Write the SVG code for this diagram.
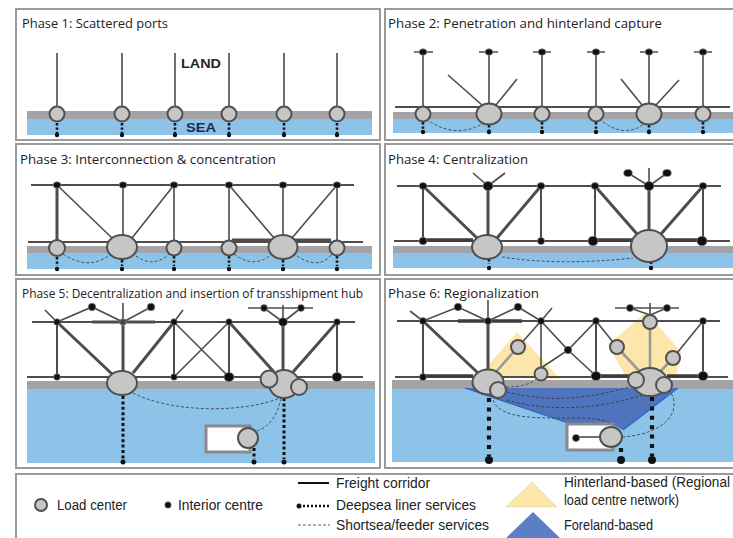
<svg xmlns="http://www.w3.org/2000/svg" width="733" height="538" viewBox="0 0 733 538">
<style>
.pb{fill:#fff;stroke:#9a9a9a;stroke-width:2}
.t{font-family:"Open Sans","Noto Sans",sans-serif;font-size:12.5px;fill:#222}
.lt{font-family:"Liberation Sans",Arial,sans-serif;font-size:14px;fill:#222}
.bg{fill:#a4a4a6}
.bb{fill:#8dc3e9}
.ln{stroke:#4d4d4d;stroke-width:1.6;fill:none}
.l2{stroke:#4d4d4d;stroke-width:2;fill:none}
.tk{stroke:#4d4d4d;stroke-width:3;fill:none}
.tk4{stroke:#3d3d3d;stroke-width:3.6;fill:none}
.gl{stroke:#9a9a9a;stroke-width:2.6;fill:none}
.lc{fill:#c6c6c6;stroke:#505050;stroke-width:2}
.ic{fill:#111;stroke:#888;stroke-width:0.7}
.dp{stroke:#111;stroke-width:2.6;stroke-dasharray:2.4 2;fill:none}
.dp2{stroke:#111;stroke-width:3;stroke-dasharray:3 2.4;fill:none}
.dp3{stroke:#111;stroke-width:4.2;stroke-dasharray:4 5.4;fill:none}
.ss{stroke:#333;stroke-width:0.8;stroke-dasharray:3 2;fill:none}
.rc{fill:#fff;stroke:#8a8a8a;stroke-width:3}
.yl{fill:#fce6a9}
.fl{fill:#4f74bd}
</style>

<!-- Panel 1 -->
<g id="panel1">
<rect class="pb" x="16" y="9" width="364" height="131"/>
<text class="t" x="22" y="28" textLength="146" lengthAdjust="spacingAndGlyphs">Phase 1: Scattered ports</text>
<rect class="bg" x="27" y="111" width="345" height="8"/>
<rect class="bb" x="27" y="119" width="345" height="16"/>
<text x="181" y="68" font-family="Liberation Sans,Arial,sans-serif" font-weight="bold" font-size="13.5" fill="#262626" textLength="40" lengthAdjust="spacingAndGlyphs">LAND</text>
<text x="186" y="132" font-family="Liberation Sans,Arial,sans-serif" font-weight="bold" font-size="13.5" fill="#1c2b4d" textLength="30" lengthAdjust="spacingAndGlyphs">SEA</text>
<g id="p1-connectors">
<path class="ln" d="M57 53V107M122 53V107M175 53V107M229 53V107M284 53V107M337 53V107"/>
<path class="dp" d="M57 123V133M122 123V133M175 123V133M229 123V133M284 123V133M337 123V133"/>
</g>
<g id="p1-nodes">
<circle id="p1-lc1" class="lc" cx="57" cy="114" r="7.5"/>
<circle id="p1-lc2" class="lc" cx="122" cy="114" r="7.5"/>
<circle id="p1-lc3" class="lc" cx="175" cy="114" r="7.5"/>
<circle id="p1-lc4" class="lc" cx="229" cy="114" r="7.5"/>
<circle id="p1-lc5" class="lc" cx="284" cy="114" r="7.5"/>
<circle id="p1-lc6" class="lc" cx="337" cy="114" r="7.5"/>
<g fill="#111"><circle cx="57" cy="135" r="2.2"/><circle cx="122" cy="135" r="2.2"/><circle cx="175" cy="135" r="2.2"/><circle cx="229" cy="135" r="2.2"/><circle cx="284" cy="135" r="2.2"/><circle cx="337" cy="135" r="2.2"/></g>
</g>
</g>

<!-- Panel 2 -->
<g id="panel2">
<rect class="pb" x="385" y="9" width="360" height="131"/>
<text class="t" x="388" y="28" textLength="274" lengthAdjust="spacingAndGlyphs">Phase 2: Penetration and hinterland capture</text>
<rect class="bg" x="393" y="112" width="340" height="7"/>
<rect class="bb" x="393" y="119" width="340" height="14"/>
<g id="p2-connectors">
<path class="l2" d="M395 107H730"/>
<path class="ln" d="M414 52H433M479 52H498M533 52H551M587 52H605M640 52H658M694 52H712"/>
<path class="ln" d="M423 52V106M489 52V103M542 52V106M596 52V106M649 52V103M703 52V106"/>
<path class="ln" stroke-width="1.2" d="M448 75L482 105M517 79L496 105M621 79L642 105M679 80L656 105"/>
<path class="ss" d="M426 119Q455 140 484 123M599 119Q625 140 645 123"/>
<path class="dp" d="M423 122V130M489 125V130M542 122V130M596 122V130M649 125V130M703 122V130"/>
</g>
<g id="p2-nodes">
<circle class="lc" cx="423" cy="114" r="7.5"/>
<ellipse class="lc" cx="489" cy="114" rx="12.5" ry="10.5"/>
<circle class="lc" cx="542" cy="114" r="7.5"/>
<circle class="lc" cx="596" cy="114" r="7.5"/>
<ellipse class="lc" cx="649" cy="114" rx="12.5" ry="10.5"/>
<circle class="lc" cx="703" cy="114" r="7.5"/>
<g class="ic"><ellipse cx="423" cy="52" rx="3.8" ry="3.2"/><ellipse cx="489" cy="52" rx="3.8" ry="3.2"/><ellipse cx="542" cy="52" rx="3.8" ry="3.2"/><ellipse cx="596" cy="52" rx="3.8" ry="3.2"/><ellipse cx="649" cy="52" rx="3.8" ry="3.2"/><ellipse cx="703" cy="52" rx="3.8" ry="3.2"/></g>
<g fill="#111"><circle cx="423" cy="132" r="2.2"/><circle cx="489" cy="132" r="2.2"/><circle cx="542" cy="132" r="2.2"/><circle cx="596" cy="132" r="2.2"/><circle cx="649" cy="132" r="2.2"/><circle cx="703" cy="132" r="2.2"/></g>
</g>
</g>

<!-- Panel 3 -->
<g id="panel3">
<rect class="pb" x="16" y="144" width="364" height="131"/>
<text class="t" x="20" y="164" textLength="256" lengthAdjust="spacingAndGlyphs">Phase 3: Interconnection &amp; concentration</text>
<rect class="bg" x="27" y="246" width="345" height="7"/>
<rect class="bb" x="27" y="253" width="345" height="16"/>
<g id="p3-connectors">
<path class="l2" d="M31 185H354"/>
<path class="l2" d="M28 242H363"/>
<path class="tk" d="M232 240H331"/>
<path class="tk" d="M57 185V240"/>
<path class="ln" d="M123 185V235M174 185V240M229 185V240M283 185V235M337 185V240"/>
<path class="ln" d="M57 185L112 238M174 185L132 238M229 185L274 238M337 185L292 238"/>
<path class="ss" d="M63 254Q90 272 112 253M132 253Q152 270 169 254M234 254Q255 270 273 253M293 253Q318 272 332 254"/>
<path class="dp" d="M57 257V266M122 260V266M174 256V266M229 256V266M283 260V266M337 256V266"/>
</g>
<g id="p3-nodes">
<circle class="lc" cx="57" cy="248" r="8"/>
<ellipse class="lc" cx="122" cy="247" rx="15" ry="12"/>
<circle class="lc" cx="174" cy="248" r="7.5"/>
<circle class="lc" cx="229" cy="248" r="7.5"/>
<ellipse class="lc" cx="283" cy="247" rx="14.5" ry="12"/>
<circle class="lc" cx="337" cy="248" r="7.5"/>
<g class="ic"><ellipse cx="57" cy="185" rx="3.8" ry="3.2"/><ellipse cx="123" cy="185" rx="3.8" ry="3.2"/><ellipse cx="174" cy="185" rx="3.8" ry="3.2"/><ellipse cx="229" cy="185" rx="3.8" ry="3.2"/><ellipse cx="283" cy="185" rx="3.8" ry="3.2"/><ellipse cx="337" cy="185" rx="3.8" ry="3.2"/></g>
<g fill="#111"><circle cx="57" cy="269" r="2.2"/><circle cx="122" cy="269" r="2.2"/><circle cx="174" cy="269" r="2.2"/><circle cx="229" cy="269" r="2.2"/><circle cx="283" cy="269" r="2.2"/><circle cx="337" cy="269" r="2.2"/></g>
</g>
</g>

<!-- Panel 4 -->
<g id="panel4">
<rect class="pb" x="385" y="144" width="360" height="131"/>
<text class="t" x="388" y="164" textLength="140" lengthAdjust="spacingAndGlyphs">Phase 4: Centralization</text>
<rect class="bg" x="393" y="246" width="340" height="7"/>
<rect class="bb" x="393" y="253" width="340" height="15"/>
<g id="p4-connectors">
<path class="l2" d="M397 186H721"/>
<path class="l2" d="M394 241H730"/>
<path class="tk4" d="M423 240H473M595 240H633M666 240H703"/>
<path class="ln" d="M488 186L473 173M488 186L505 173M649 186V168M649 186L628 173M649 186L667 173"/>
<path class="l2" d="M423 186V241M541 186V241M595 186V241M703 186V241"/>
<path class="tk" d="M423 186L477 238M488 186V235M541 186L497 238M595 186L637 234M649 186V230M703 186L661 234"/>
<path class="ss" d="M502 257Q560 266 633 258"/>
<path class="dp" d="M489 259V264M651 262V264"/>
</g>
<g id="p4-nodes">
<ellipse class="lc" cx="487" cy="247" rx="15" ry="12"/>
<ellipse class="lc" cx="649" cy="246" rx="18" ry="16"/>
<g class="ic">
<ellipse cx="423" cy="186" rx="3.8" ry="3.4"/><ellipse cx="488" cy="186" rx="5" ry="4.5"/><ellipse cx="541" cy="186" rx="3.8" ry="3.4"/><ellipse cx="595" cy="186" rx="3.8" ry="3.4"/><ellipse cx="649" cy="186" rx="5" ry="4.5"/><ellipse cx="703" cy="186" rx="3.8" ry="3.4"/>
<ellipse cx="628" cy="173" rx="4.3" ry="3.6"/><ellipse cx="667" cy="173" rx="4.3" ry="3.6"/>
<ellipse cx="423" cy="241" rx="4" ry="3.8"/><ellipse cx="541" cy="241" rx="3.6" ry="3.6"/><ellipse cx="593" cy="241" rx="5" ry="4.8"/><ellipse cx="702" cy="241" rx="5" ry="4.8"/>
</g>
<g fill="#111"><circle cx="489" cy="268" r="2.2"/><circle cx="651" cy="268" r="2.2"/></g>
</g>
</g>

<!-- Panel 5 -->
<g id="panel5">
<rect class="pb" x="16" y="279" width="364" height="189"/>
<text class="t" x="22" y="298" textLength="341" lengthAdjust="spacingAndGlyphs">Phase 5: Decentralization and insertion of transshipment hub</text>
<rect class="bg" x="27" y="381" width="348" height="8"/>
<rect class="bb" x="27" y="389" width="348" height="74"/>
<g id="p5-connectors">
<path class="l2" d="M32 322H355"/>
<path class="tk" d="M92 322H155"/>
<path class="ln" d="M57 322L45 310M57 322L92 307L123 322L151 307M123 322V303M174 322L183 310"/>
<path class="ln" d="M248 308H313M283 322V305M283 322L264 308M283 322L301 308"/>
<path class="l2" stroke-width="2.5" d="M27 377H363"/>
<path class="l2" d="M57 322V377M174 322V377M229 322V377M337 322V377"/>
<path class="ln" d="M174 322L229 377M229 322L174 377"/>
<path class="tk" d="M57 322L112 374M123 322V371M174 322L133 373M229 322L274 372M283 322V370M337 322L293 372"/>
<path class="ss" d="M133 393C170 412 240 414 280 398"/>
<path class="ss" d="M281 398Q276 424 257 431"/>
<path class="dp2" d="M123 396V459M284 398V459M254 448V459"/>
</g>
<g id="p5-nodes">
<ellipse class="lc" cx="122" cy="383" rx="15" ry="12"/>
<g id="p5-hub"><ellipse class="lc" cx="284" cy="384" rx="15" ry="14"/><circle class="lc" cx="269" cy="379" r="8.5"/><circle class="lc" cx="299" cy="387" r="8"/></g>
<rect class="rc" x="206" y="426" width="44" height="26"/>
<circle class="lc" cx="248" cy="438" r="10"/>
<g class="ic">
<circle cx="57" cy="322" r="3.3"/><circle cx="123" cy="322" r="3.3" fill="#444"/><circle cx="174" cy="322" r="3.3"/><circle cx="229" cy="322" r="3.3"/><ellipse cx="283" cy="322" rx="4.5" ry="4.2"/><circle cx="337" cy="322" r="3.3"/>
<circle cx="92" cy="307" r="3.8"/><circle cx="151" cy="307" r="3.8"/><circle cx="264" cy="308" r="3.4"/><circle cx="301" cy="308" r="3.4"/>
<circle cx="57" cy="377" r="3.3"/><circle cx="174" cy="377" r="3.3"/><ellipse cx="229" cy="377" rx="5" ry="4.6"/><ellipse cx="337" cy="377" rx="5" ry="4.6"/>
</g>
<g fill="#111"><circle cx="123" cy="462" r="2.5"/><circle cx="284" cy="462" r="2.5"/><circle cx="254" cy="462" r="2.5"/></g>
</g>
</g>

<!-- Panel 6 -->
<g id="panel6">
<rect class="pb" x="385" y="279" width="360" height="189"/>
<text class="t" x="388" y="298" textLength="151" lengthAdjust="spacingAndGlyphs">Phase 6: Regionalization</text>
<rect class="bg" x="392" y="380" width="341" height="9"/>
<rect class="bb" x="392" y="389" width="341" height="73"/>
<polygon class="fl" points="465,388 678,388 623,430 612,424 568,423"/>
<path d="M465 388L568 423" stroke="#2b62c4" stroke-width="1.2" fill="none"/>
<path d="M678 388L623 430" stroke="#2b62c4" stroke-width="1.2" fill="none"/>
<polygon class="yl" points="517,332 478,377 560,379"/>
<polygon class="yl" points="608,345 646,312 681,352 676,378 626,377"/>
<g id="p6-connectors">
<path class="l2" d="M397 321H720"/>
<path class="tk4" d="M458 321H522"/>
<path class="ln" d="M423 321L410 311M423 321L458 307L488 321L518 307L541 321L552 308M488 321V300"/>
<path class="ln" d="M615 308H679M650 315V303M650 315L630 308M650 315L667 308"/>
<path class="l2" stroke-width="2.5" d="M395 377H728"/>
<path class="tk4" d="M423 376H473M596 376H633M667 376H703"/>
<path class="l2" d="M423 321V377M596 321V376M703 321V376"/>
<path class="ln" d="M541 321L568 350L596 321M541 368L568 350L596 376M541 321V367"/>
<path class="tk" d="M423 321L478 373M488 321V369"/>
<path class="ln" stroke="#666" d="M541 321L518 347M596 321L617 347M703 321L673 358"/>
<path class="gl" d="M518 347L496 372M617 347L640 372M650 329V368M673 358L660 372"/>
<path class="ss" d="M506 387Q528 387 536 379"/>
<path class="ss" d="M507 392C540 400 575 403 633 386"/>
<path class="ss" d="M507 400C540 410 590 412 643 395"/>
<path class="ss" d="M493 400C500 420 540 418 575 418C600 418 610 421 614 427"/>
<path class="ss" d="M668 390C680 400 679 432 623 437"/>
<path class="dp3" d="M489 398V456M621 448V456M652 397V456"/>
</g>
<g id="p6-nodes">
<g id="p6-hub-left"><ellipse class="lc" cx="488" cy="382" rx="15.5" ry="12.5"/><circle class="lc" cx="498" cy="390" r="8"/></g>
<g id="p6-hub-right"><ellipse class="lc" cx="650" cy="382" rx="17" ry="14"/><circle class="lc" cx="636" cy="380" r="8"/><circle class="lc" cx="664" cy="385" r="8"/></g>
<circle class="lc" cx="518" cy="347" r="7"/>
<circle class="lc" cx="541" cy="374" r="6.5"/>
<circle class="lc" cx="617" cy="347" r="7"/>
<circle class="lc" cx="673" cy="358" r="7"/>
<circle class="lc" cx="650" cy="322" r="7"/>
<rect class="rc" x="567" y="424" width="46" height="26"/>
<path class="ln" d="M576 437H602"/>
<ellipse class="lc" cx="611" cy="437" rx="11" ry="10"/>
<g class="ic">
<circle cx="423" cy="321" r="3.5"/><circle cx="488" cy="321" r="3.5"/><circle cx="541" cy="321" r="3.5"/><circle cx="596" cy="321" r="3.5"/><circle cx="703" cy="321" r="3.5"/>
<circle cx="458" cy="307" r="3.8"/><circle cx="518" cy="307" r="3.8"/><circle cx="630" cy="308" r="3.6"/><circle cx="667" cy="308" r="3.6"/>
<circle cx="568" cy="350" r="3.8"/>
<circle cx="423" cy="377" r="3.5"/><ellipse cx="596" cy="376" rx="5" ry="4.6"/><ellipse cx="703" cy="376" rx="5" ry="4.6"/>
<circle cx="576" cy="438" r="3.6"/>
</g>
<g fill="#111"><circle cx="489" cy="460" r="4"/><circle cx="621" cy="460" r="4"/><circle cx="652" cy="460" r="4"/></g>
</g>
</g>

<!-- Legend -->
<g id="legend">
<rect class="pb" x="16" y="474" width="730" height="80"/>
<g id="lg-load"><circle class="lc" cx="41" cy="505" r="6"/><text class="lt" x="57" y="510" textLength="70" lengthAdjust="spacingAndGlyphs">Load center</text></g>
<g id="lg-interior"><circle class="ic" cx="168" cy="505" r="3.2"/><text class="lt" x="178" y="510" textLength="85" lengthAdjust="spacingAndGlyphs">Interior centre</text></g>
<g id="lg-freight"><path d="M298 483H329" stroke="#111" stroke-width="2"/><text class="lt" x="336" y="488" textLength="94" lengthAdjust="spacingAndGlyphs">Freight corridor</text></g>
<g id="lg-deepsea"><circle cx="299" cy="506" r="2.5" fill="#111"/><path d="M303 506H330" stroke="#111" stroke-width="2.4" stroke-dasharray="2 2"/><text class="lt" x="336" y="510" textLength="140" lengthAdjust="spacingAndGlyphs">Deepsea liner services</text></g>
<g id="lg-shortsea"><path class="ss" d="M298 525H330"/><text class="lt" x="336" y="530" textLength="153" lengthAdjust="spacingAndGlyphs">Shortsea/feeder services</text></g>
<g id="lg-hinterland"><polygon class="yl" points="532,482 506,507 557,507" stroke="#c8b98a" stroke-width="0.6" stroke-dasharray="1.5 1.5"/><text class="lt" x="564" y="487" textLength="166" lengthAdjust="spacingAndGlyphs">Hinterland-based (Regional</text><text class="lt" x="564" y="505" textLength="115" lengthAdjust="spacingAndGlyphs">load centre network)</text></g>
<g id="lg-foreland"><polygon points="533,512 506,538 560,538" fill="#5b7fc4"/><text class="lt" x="564" y="530" textLength="89" lengthAdjust="spacingAndGlyphs">Foreland-based</text></g>
</g>
</svg>
